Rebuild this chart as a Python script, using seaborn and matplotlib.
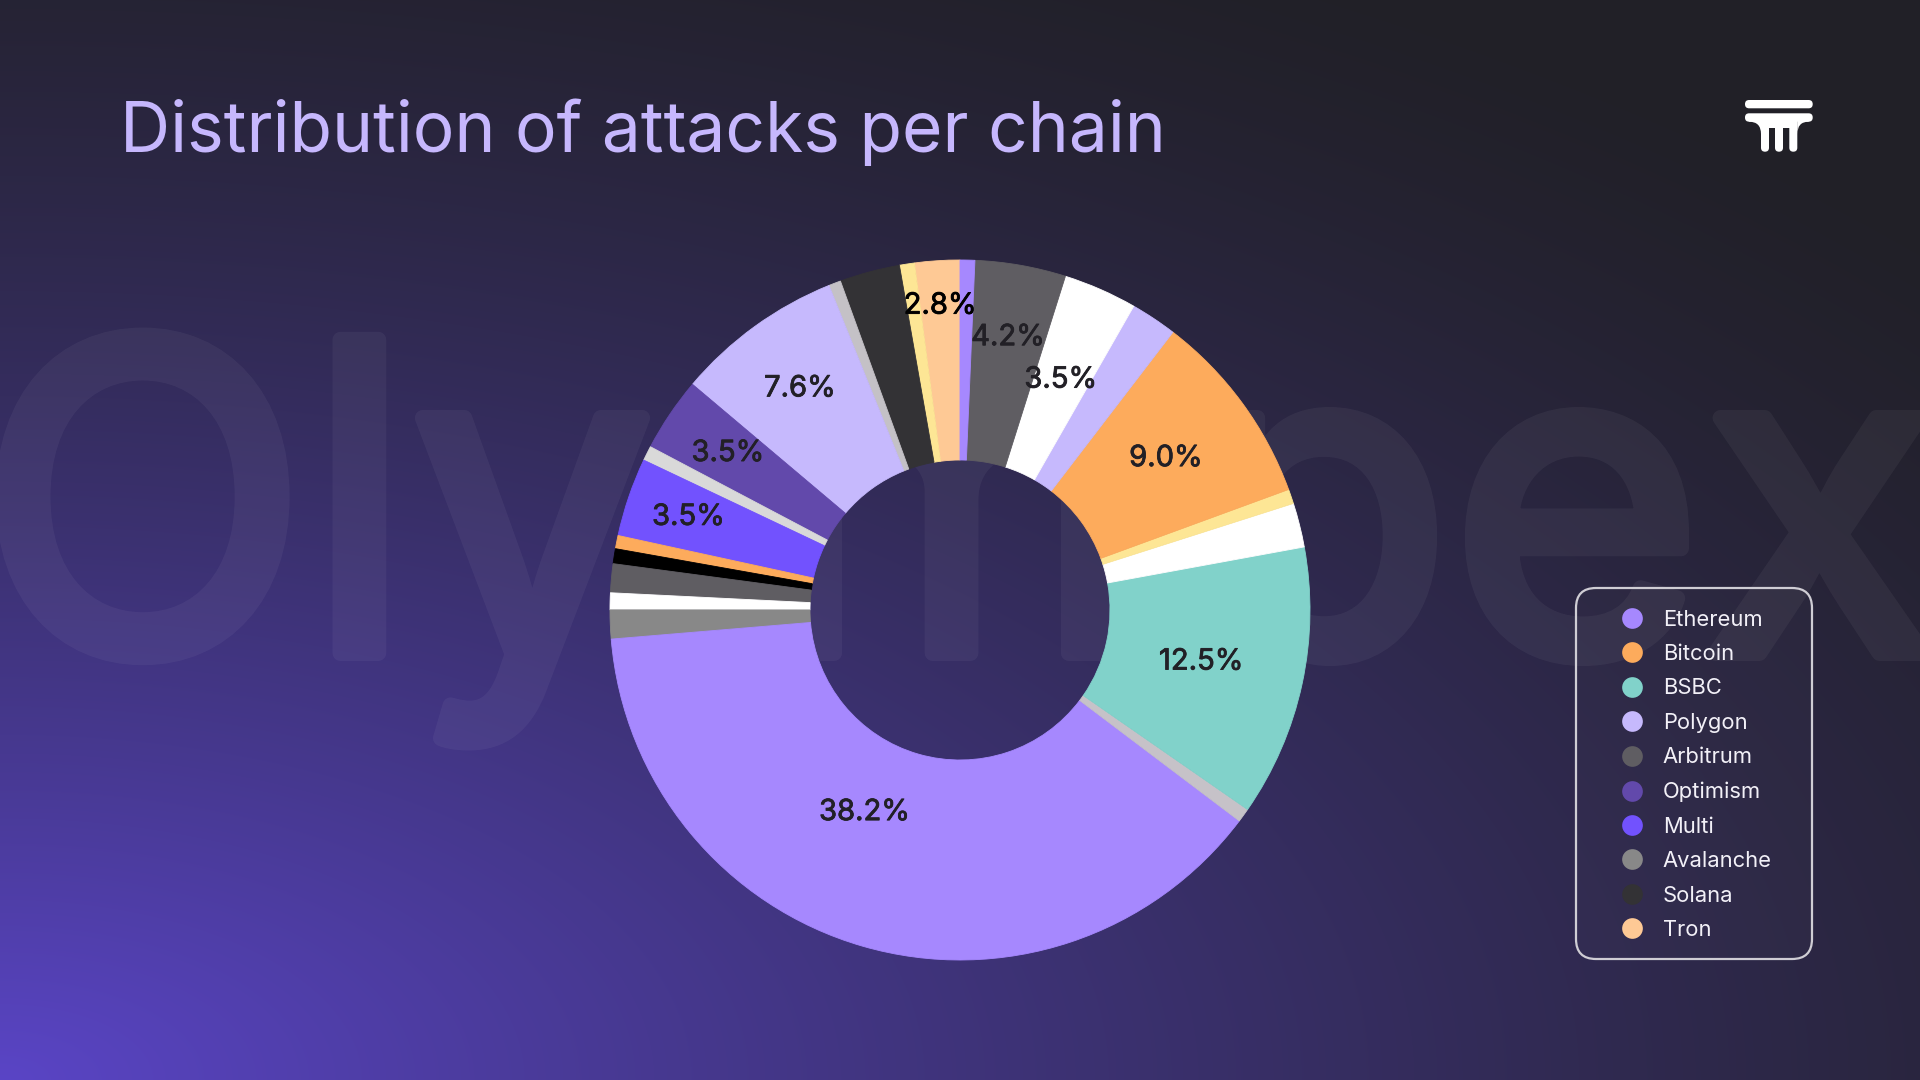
import numpy as np
import matplotlib
matplotlib.use("Agg")
import matplotlib.pyplot as plt
import matplotlib.patheffects as pe
import seaborn as sns
from matplotlib.patches import FancyBboxPatch, PathPatch
from matplotlib.path import Path
from matplotlib.lines import Line2D

# ---------------- data ----------------
title_text = "Distribution of attacks per chain"
watermark_parts = ["Oly", "m", "pex"]   # background word "Olympex"

# slices, counter-clockwise from 12 o'clock (share of the ring, %)
slice_values = [2.08, 0.69, 2.78, 0.56, 7.74, 3.43, 0.68, 3.63, 0.61, 0.69,
                1.33, 0.78, 1.33, 38.39, 0.64, 12.54, 2.04, 0.67, 9.00, 2.14,
                3.40, 4.19, 0.68]
slice_colors = ["#fec995", "#fde695", "#333235", "#c4c1c6", "#c6b9fd",
                "#6249ab", "#d9d9d9", "#7252fe", "#fdab5c", "#000000",
                "#5f5d62", "#ffffff", "#888888", "#a688fe", "#c6c2c8",
                "#81d2ca", "#ffffff", "#fde695", "#fdab5c", "#c6b9fd",
                "#ffffff", "#5f5d62", "#a688fe"]
slice_labels = ["2.8%", "", "", "", "7.6%", "3.5%", "", "3.5%", "", "",
                "", "", "", "38.2%", "", "12.5%", "", "", "9.0%", "",
                "3.5%", "4.2%", ""]

legend_names = ["Ethereum", "Bitcoin", "BSBC", "Polygon", "Arbitrum",
                "Optimism", "Multi", "Avalanche", "Solana", "Tron"]
legend_colors = ["#a688fe", "#fdab5c", "#81d2ca", "#c6b9fd", "#5f5d62",
                 "#6249ab", "#7252fe", "#888888", "#333235", "#fec995"]

# label placement (radius as fraction of outer radius, angle nudge in degrees)
LABEL_RADIUS = {0: 0.87, 4: 0.78, 5: 0.80, 7: 0.82, 13: 0.64, 15: 0.705,
                18: 0.73, 20: 0.717, 21: 0.79}
LABEL_SHIFT = {13: -9.1}

# ---------------- style ----------------
sns.set_theme(style="white")
plt.rcParams["font.family"] = ["Inter", "DejaVu Sans"]

W, H = 1920, 1080
fig = plt.figure(figsize=(W / 100, H / 100), dpi=100)

# background gradient
bg = fig.add_axes([0, 0, 1, 1], zorder=-10)
yy, xx = np.mgrid[0:H, 0:W]
d = np.sqrt((xx / 2600.0) ** 2 + ((H - yy) / 1300.0) ** 2)
f = np.clip(1 - d, 0, 1) ** 1.4
dark = np.array([0x21, 0x20, 0x27]) / 255.0
purp = np.array([0x5a, 0x45, 0xc6]) / 255.0
img = dark[None, None, :] + (purp - dark)[None, None, :] * f[..., None]
bg.imshow(img, extent=(0, W, H, 0), aspect="auto", interpolation="bilinear")
bg.set_xlim(0, W)
bg.set_ylim(H, 0)
bg.axis("off")


def faint(im, dpi):
    im = im.copy()
    im[..., 3] *= 0.05
    return im, 0, 0


for xpos, part, ha in [(-22, watermark_parts[0], "left"),
                       (763, watermark_parts[1], "left"),
                       (1937, watermark_parts[2], "right")]:
    wm = bg.text(xpos, 653, part, fontsize=310, color="white",
                 va="baseline", ha=ha,
                 path_effects=[pe.withStroke(linewidth=11.5, foreground="white")])
    wm.set_agg_filter(faint)

# donut
cx, cy, R = 960, 610, 350
ax = fig.add_axes([(cx - R) / W, (H - cy - R) / H, 2 * R / W, 2 * R / H])
wedges, _ = ax.pie(slice_values, colors=slice_colors, startangle=90,
                   counterclock=True, radius=1.0,
                   wedgeprops=dict(width=1 - 150 / 350, linewidth=0.6))
for w, c in zip(wedges, slice_colors):
    w.set_edgecolor(c)
for i, (w, lab) in enumerate(zip(wedges, slice_labels)):
    if not lab:
        continue
    th = np.deg2rad((w.theta1 + w.theta2) / 2 + LABEL_SHIFT.get(i, 0))
    r = LABEL_RADIUS.get(i, 0.73)
    col = "#000000" if i == 0 else "#222026"
    ax.text(r * np.cos(th), r * np.sin(th), lab, ha="center", va="center",
            fontsize=21, color=col,
            path_effects=[pe.withStroke(linewidth=0.6, foreground=col)])
ax.set_xlim(-1, 1)
ax.set_ylim(-1, 1)
ax.set_aspect("equal")
ax.axis("off")

# overlay for title, logo, legend box
ov = fig.add_axes([0, 0, 1, 1], zorder=5)
ov.set_xlim(0, W)
ov.set_ylim(H, 0)
ov.axis("off")
ov.patch.set_alpha(0)

ov.text(120, 151.7, title_text, fontsize=50, color="#c6b7fd",
        va="baseline", ha="left")

# logo (column capital)
ov.add_patch(FancyBboxPatch((1745, 100), 67.7, 8.3,
                            boxstyle="round,pad=0,rounding_size=4.1",
                            fc="white", ec="none"))
ov.add_patch(FancyBboxPatch((1745, 113.3), 67.7, 8.4,
                            boxstyle="round,pad=0,rounding_size=4.1",
                            fc="white", ec="none"))
for lx in (1761.0, 1775.0, 1789.3):
    ov.add_patch(FancyBboxPatch((lx, 118), 8.0, 33.7,
                                boxstyle="round,pad=0,rounding_size=4.0",
                                fc="white", ec="none"))
ov.add_patch(FancyBboxPatch((1761, 117), 36.3, 11,
                            boxstyle="round,pad=0,rounding_size=1",
                            fc="white", ec="none"))
left = Path([(1749, 117), (1749, 121.7), (1761, 121.7), (1761, 134), (1761, 117), (1749, 117)],
            [Path.MOVETO, Path.LINETO, Path.CURVE3, Path.CURVE3, Path.LINETO, Path.CLOSEPOLY])
right = Path([(1808.7, 117), (1808.7, 121.7), (1797.3, 121.7), (1797.3, 134), (1797.3, 117), (1808.7, 117)],
             [Path.MOVETO, Path.LINETO, Path.CURVE3, Path.CURVE3, Path.LINETO, Path.CLOSEPOLY])
ov.add_patch(PathPatch(left, fc="white", ec="none"))
ov.add_patch(PathPatch(right, fc="white", ec="none"))

# legend frame
ov.add_patch(FancyBboxPatch((1576, 588), 236, 371,
                            boxstyle="round,pad=0,rounding_size=20",
                            fc=(1, 1, 1, 0.015), ec="#cfcdd4", lw=1.6))

handles = [Line2D([0], [0], marker="o", linestyle="none", markersize=14.9,
                  markerfacecolor=c, markeredgewidth=0) for c in legend_colors]
leg = fig.legend(handles, legend_names, loc="upper left",
                 bbox_to_anchor=(1622 / W, 1 - 609.5 / H),
                 frameon=False, fontsize=15.8, handlelength=0.943,
                 handletextpad=0.913, labelspacing=0.658, borderpad=0,
                 borderaxespad=0)
for t in leg.get_texts():
    t.set_color("#f2f0f7")
leg.set_zorder(10)

fig.savefig("out.png", dpi=100)
